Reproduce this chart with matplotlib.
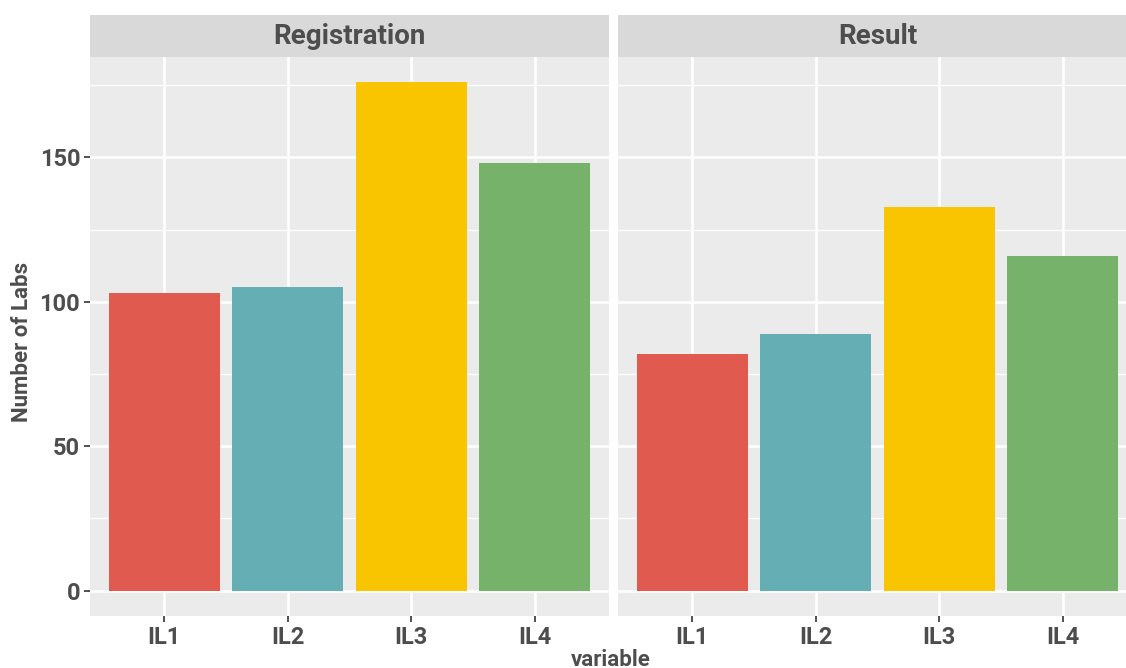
import matplotlib
matplotlib.use("Agg")
import matplotlib.pyplot as plt
from matplotlib.ticker import MultipleLocator

categories = ["IL1", "IL2", "IL3", "IL4"]
facets = ["Registration", "Result"]
registration = [103, 105, 176, 148]
result = [82, 89, 133, 116]
colors = ["#E05A4F", "#65AFB4", "#F9C500", "#76B26A"]
y_ticks = [0, 50, 100, 150]

W, H = 1126, 668
fig = plt.figure(figsize=(W / 100, H / 100), dpi=100)
fig.patch.set_facecolor("white")

txt = "#4D4D4D"
font = "Roboto"

def px_axes(x0, y0, x1, y1):
    return fig.add_axes([x0 / W, 1 - y1 / H, (x1 - x0) / W, (y1 - y0) / H])

panel_top, panel_bot = 57, 616
strip_top = 15
lefts = [90, 618]
pw = 519

ymax = max(registration + result)
ylim = (-0.05 * ymax, 1.05 * ymax)

for i, (name, vals) in enumerate(zip(facets, [registration, result])):
    x0 = lefts[i]
    ax = px_axes(x0, panel_top, x0 + pw, panel_bot)
    ax.set_facecolor("#EBEBEB")
    xs = list(range(1, len(categories) + 1))
    ax.bar(xs, vals, width=0.9, color=colors, zorder=3)
    ax.set_xlim(0.4, 4.6)
    ax.set_ylim(*ylim)
    ax.set_xticks(xs)
    ax.set_xticklabels(categories)
    ax.set_yticks(y_ticks)
    ax.yaxis.set_minor_locator(MultipleLocator(25))
    ax.grid(True, which="major", color="white", linewidth=1.8, zorder=1)
    ax.grid(True, which="minor", axis="y", color="white", linewidth=0.9, zorder=1)
    for s in ax.spines.values():
        s.set_visible(False)
    ax.tick_params(axis="both", which="major", length=4, width=1.2, color="#333333",
                   labelcolor=txt, labelsize=17, pad=3)
    ax.tick_params(axis="y", which="minor", length=0)
    for lab in ax.get_xticklabels() + ax.get_yticklabels():
        lab.set_fontfamily(font)
        lab.set_fontweight("bold")
    if i == 1:
        ax.tick_params(axis="y", which="major", length=0, labelleft=False)
    # strip
    sax = px_axes(x0, strip_top, x0 + pw, panel_top)
    sax.set_facecolor("#D9D9D9")
    sax.set_xticks([]); sax.set_yticks([])
    for s in sax.spines.values():
        s.set_visible(False)
    sax.text(0.5, 0.5, name, ha="center", va="center", fontsize=20, fontweight="bold",
             color=txt, family=font, transform=sax.transAxes)

fig.text(22 / W, 1 - 342 / H, "Number of Labs", rotation=90, ha="center", va="center",
         fontsize=16, fontweight="bold", color=txt, family=font)
fig.text(611 / W, 1 - 660 / H, "variable", ha="center", va="center",
         fontsize=16, fontweight="bold", color=txt, family=font)

fig.savefig("out.png", dpi=100)
